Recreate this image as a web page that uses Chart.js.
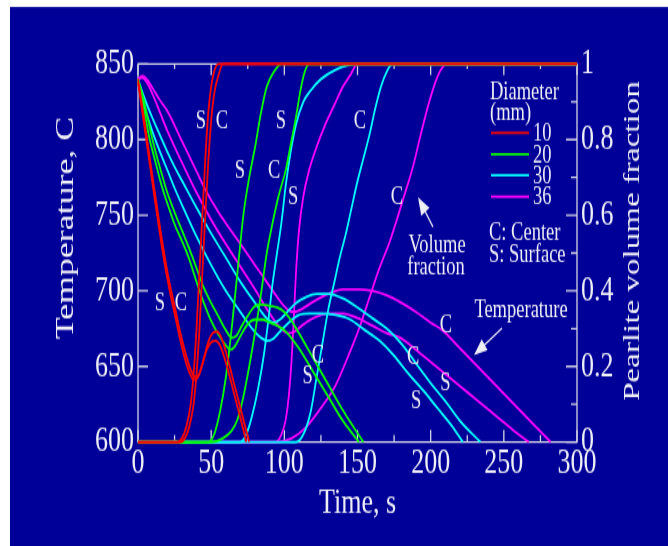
<!DOCTYPE html>
<html>
<head>
<meta charset="utf-8">
<script src="https://cdn.jsdelivr.net/npm/chart.js@4.4.0/dist/chart.umd.min.js"></script>
<style>
  html, body { margin: 0; padding: 0; background: #fff; }
  canvas { display: block; }
</style>
</head>
<body>
<!-- drawn at a flatter height, displayed stretched to 546px tall -->
<canvas id="chart" width="668" height="396" style="width:668px;height:546px"></canvas>
<script>
const STRETCH = 546 / 396;

const diameters = [10, 20, 30, 36];
const lineColors = ["#ff0000", "#00ff00", "#00ffff", "#ff00ff"];

// temperature (C) vs time (s), centre and surface
const temp10C = [[0,840],[4,815],[8,788],[12,762],[17,730],[21,708],[25,690],[29,672],[33,657],[36,648],[39,643],[42,645],[45,655],[48,666],[51,672],[54,673],[57,669],[60,660],[64,645],[68,630],[72,615],[76,600]];
const temp10S = [[0,838],[4,811],[8,784],[12,757],[17,725],[21,703],[25,685],[29,667],[33,652],[36,644],[38,641],[41,643],[44,652],[47,661],[50,666],[53,667],[56,664],[59,656],[63,642],[67,627],[71,612],[74,600]];
const temp20C = [[0,840],[4,826],[8,808],[12,792],[16,778],[20,765],[25,752],[30,740],[35,728],[40,715],[45,702],[50,692],[55,683],[60,674],[64,669],[67,670],[71,677],[76,685],[80,690],[85,691],[90,690],[95,689],[100,686],[105,680],[110,672],[120,655],[130,638],[140,621],[154,600]];
const temp20S = [[0,838],[4,820],[8,800],[12,785],[16,770],[20,758],[25,744],[30,733],[35,721],[40,706],[45,692],[50,680],[55,671],[60,664],[63,661],[66,663],[70,670],[75,678],[80,681],[85,681],[90,679],[95,677],[100,674],[110,662],[120,646],[130,630],[140,614],[151,600]];
const temp30C = [[0,840],[5,826],[10,814],[15,803],[20,792],[25,782],[30,773],[40,755],[50,738],[60,722],[70,706],[80,692],[86,684],[90,680],[93,679],[97,681],[102,686],[108,692],[115,696],[122,698],[130,698],[140,695],[150,689],[160,682],[170,675],[180,665],[190,652],[200,639],[210,627],[220,614],[234,600]];
const temp30S = [[0,839],[5,820],[10,805],[15,792],[20,780],[25,768],[30,757],[40,736],[50,717],[60,700],[70,686],[78,675],[84,669],[88,667],[92,668],[97,673],[103,679],[110,684],[117,685],[125,685],[135,684],[145,681],[155,674],[165,667],[175,657],[185,645],[195,634],[205,622],[215,610],[222,600]];
const temp36C = [[0,840],[3,842],[6,840],[10,834],[15,826],[20,819],[30,799],[40,779],[46,767],[55,752],[62,742],[70,731],[80,717],[90,703],[98,692],[103,687],[107,686],[112,688],[120,693],[130,698],[140,701],[150,701],[160,700],[170,697],[180,692],[190,686],[200,679],[208,674],[220,662],[230,652],[240,642],[250,632],[260,622],[270,612],[282,600]];
const temp36S = [[0,840],[3,841],[6,838],[10,830],[15,818],[20,806],[30,785],[40,765],[50,747],[60,731],[70,716],[80,701],[88,688],[95,678],[100,673],[103,672],[107,673],[112,677],[120,682],[130,685],[140,685],[150,682],[160,677],[170,672],[179,669],[190,661],[200,653],[210,645],[220,637],[230,629],[240,621],[250,613],[260,605],[267,600]];

// pearlite volume fraction vs time (s)
const frac10C = [[0,0],[29,0],[32,0.01],[35,0.04],[38,0.1],[40,0.18],[42,0.3],[44,0.45],[46,0.6],[48,0.74],[50,0.85],[52,0.92],[55,0.97],[58,1],[300,1]];
const frac10S = [[0,0],[27,0],[30,0.01],[33,0.04],[36,0.1],[38,0.18],[40,0.3],[42,0.45],[44,0.6],[46,0.75],[48,0.87],[50,0.94],[52,0.98],[55,1],[300,1]];
const frac20C = [[0,0],[50,0],[58,0.01],[64,0.03],[68,0.06],[72,0.12],[76,0.2],[80,0.29],[84,0.39],[88,0.5],[92,0.58],[96,0.65],[101,0.72],[105,0.8],[108,0.86],[111,0.93],[114,0.98],[117,1],[300,1]];
const frac20S = [[0,0],[48,0],[52,0.02],[56,0.08],[60,0.17],[64,0.3],[68,0.45],[72,0.6],[76,0.7],[80,0.78],[84,0.87],[88,0.94],[93,0.98],[98,1],[300,1]];
const frac30C = [[0,0],[108,0],[113,0.02],[118,0.08],[122,0.17],[126,0.26],[130,0.35],[134,0.42],[138,0.49],[142,0.55],[146,0.62],[150,0.69],[154,0.75],[158,0.81],[162,0.88],[166,0.94],[170,0.98],[174,1],[300,1]];
const frac30S = [[0,0],[70,0],[74,0.02],[78,0.07],[82,0.14],[86,0.23],[89,0.32],[92,0.42],[95,0.5],[98,0.58],[101,0.68],[104,0.76],[108,0.84],[113,0.9],[118,0.93],[125,0.96],[135,0.985],[150,1],[300,1]];
const frac36C = [[0,0],[95,0],[105,0.01],[115,0.04],[125,0.09],[135,0.15],[145,0.24],[152,0.31],[158,0.38],[165,0.46],[172,0.53],[181,0.64],[188,0.73],[193,0.81],[199,0.9],[205,0.97],[211,1],[300,1]];
const frac36S = [[0,0],[94,0],[98,0.02],[101,0.06],[103,0.12],[105,0.22],[106.5,0.33],[108,0.45],[110,0.56],[113,0.65],[117,0.72],[122,0.78],[128,0.84],[134,0.89],[140,0.94],[145,0.97],[150,1],[300,1]];

// C / S tags next to the curves, in data units
const tempTags = [["S",15,692],["C",29.4,692],["C",123,657],["S",116,643],["C",188,656],["S",190,627],["C",210.5,677],["S",210,639]];
const fracTags = [["S",43,0.847],["C",57.4,0.847],["S",69.7,0.717],["C",93,0.717],["S",97.7,0.849],["C",151.7,0.849],["S",106,0.648],["C",177,0.648]];

const tempSeries = [[temp10C, temp10S], [temp20C, temp20S], [temp30C, temp30S], [temp36C, temp36S]];
const fracSeries = [[frac10C, frac10S], [frac20C, frac20S], [frac30C, frac30S], [frac36C, frac36S]];

const textColor = "#eeeef6";
const axisColor = "#d4d4e4";
const serif = "'Liberation Serif', 'Times New Roman', serif";

const datasets = [];
diameters.forEach((d, i) => {
  const mk = (pts, axis, label) => ({
    label,
    data: pts.map(([x, y]) => ({ x, y })),
    yAxisID: axis,
    borderColor: lineColors[i],
    borderWidth: 1.8,
    pointRadius: 0,
    cubicInterpolationMode: "monotone",
    fill: false,
    clip: 4,
  });
  datasets.push(mk(tempSeries[i][0], "y", d + " mm C temp"));
  datasets.push(mk(tempSeries[i][1], "y", d + " mm S temp"));
  datasets.push(mk(fracSeries[i][0], "y2", d + " mm C fraction"));
  datasets.push(mk(fracSeries[i][1], "y2", d + " mm S fraction"));
});

const background = {
  id: "background",
  beforeDraw(chart) {
    const { ctx, width, height } = chart;
    ctx.save();
    ctx.fillStyle = "#ffffff";
    ctx.fillRect(0, 0, width, height);
    ctx.fillStyle = "#000099";
    ctx.fillRect(10, 7 / STRETCH, width - 10, height);
    ctx.restore();
  },
};

// box round the plot with inward ticks
const frame = {
  id: "frame",
  beforeDatasetsDraw(chart) {
    const { ctx, chartArea: a, scales } = chart;
    const { x, y, y2 } = scales;
    ctx.save();
    ctx.strokeStyle = axisColor;
    ctx.lineWidth = 1.3;
    ctx.strokeRect(a.left, a.top, a.right - a.left, a.bottom - a.top);
    ctx.beginPath();
    for (let k = 0; k <= 12; k++) {
      const px = x.getPixelForValue(k * 25);
      const major = k % 2 === 0;
      ctx.moveTo(px, a.bottom);
      ctx.lineTo(px, a.bottom - (major ? 12 : 7) / STRETCH);
      ctx.moveTo(px, a.top);
      ctx.lineTo(px, a.top + (major ? 11 : 5) / STRETCH);
    }
    for (let v = 600; v <= 850; v += 50) {
      const py = y.getPixelForValue(v);
      ctx.moveTo(a.left, py);
      ctx.lineTo(a.left + 10, py);
    }
    for (let k = 0; k <= 10; k++) {
      const py = y2.getPixelForValue(k / 10);
      ctx.moveTo(a.right, py);
      ctx.lineTo(a.right - (k % 2 === 0 ? 11 : 6), py);
    }
    ctx.stroke();
    ctx.restore();
  },
};

function arrow(ctx, x1, y1, x2, y2) {
  // shaft from (x1,y1) to the tip at (x2,y2), y given on the 546px scale
  const ys1 = y1 / STRETCH, ys2 = y2 / STRETCH;
  const ang = Math.atan2(ys2 - ys1, x2 - x1);
  const len = 13, half = 5;
  ctx.beginPath();
  ctx.moveTo(x1, ys1);
  ctx.lineTo(x2 - Math.cos(ang) * len * 0.6, ys2 - Math.sin(ang) * len * 0.6);
  ctx.stroke();
  ctx.beginPath();
  ctx.moveTo(x2, ys2);
  ctx.lineTo(x2 - Math.cos(ang) * len - Math.sin(ang) * half, ys2 - Math.sin(ang) * len + Math.cos(ang) * half);
  ctx.lineTo(x2 - Math.cos(ang) * len + Math.sin(ang) * half, ys2 - Math.sin(ang) * len - Math.cos(ang) * half);
  ctx.closePath();
  ctx.fill();
}

const notes = {
  id: "notes",
  afterDraw(chart) {
    const { ctx, scales } = chart;
    const { x, y, y2 } = scales;
    const S = STRETCH;
    ctx.save();
    ctx.fillStyle = textColor;
    ctx.strokeStyle = textColor;
    ctx.textBaseline = "middle";

    ctx.font = "18.5px " + serif;
    ctx.textAlign = "center";
    tempTags.forEach(([t, tx, ty]) => ctx.fillText(t, x.getPixelForValue(tx), y.getPixelForValue(ty)));
    fracTags.forEach(([t, tx, ty]) => ctx.fillText(t, x.getPixelForValue(tx), y2.getPixelForValue(ty)));

    // legend
    ctx.textAlign = "left";
    ctx.fillText("Diameter", 490, 93 / S);
    ctx.fillText("(mm)", 490, 113 / S);
    diameters.forEach((d, i) => {
      const ly = (133 + i * 21.2) / S;
      ctx.fillText(String(d), 533, ly + 1);
      ctx.save();
      ctx.strokeStyle = lineColors[i];
      ctx.lineWidth = 1.8;
      ctx.beginPath();
      ctx.moveTo(491, ly);
      ctx.lineTo(529, ly);
      ctx.stroke();
      ctx.restore();
    });
    ctx.fillText("C: Center", 489, 233 / S);
    ctx.fillText("S: Surface", 489, 255 / S);

    ctx.textAlign = "center";
    ctx.fillText("Volume", 437, 245 / S);
    ctx.fillText("fraction", 436, 268 / S);
    ctx.fillText("Temperature", 521, 310 / S);

    ctx.lineWidth = 1.2;
    arrow(ctx, 433, 227, 418, 197);
    arrow(ctx, 502, 328, 474, 355);

    // axis titles on the two vertical axes
    ctx.save();
    ctx.translate(66, 228 / S);
    ctx.rotate(-Math.PI / 2);
    ctx.font = "26px " + serif;
    ctx.fillText("Temperature, C", 0, 0);
    ctx.restore();

    ctx.save();
    ctx.translate(633, 241 / S);
    ctx.rotate(-Math.PI / 2);
    ctx.font = "24px " + serif;
    ctx.fillText("Pearlite volume fraction", 0, 0);
    ctx.restore();

    ctx.restore();
  },
};

new Chart(document.getElementById("chart").getContext("2d"), {
  type: "line",
  data: { datasets },
  plugins: [background, frame, notes],
  options: {
    responsive: false,
    animation: false,
    devicePixelRatio: 1,
    layout: { padding: { top: 64 / STRETCH, left: 0, right: 0, bottom: 0 } },
    plugins: { legend: { display: false }, tooltip: { enabled: false } },
    scales: {
      x: {
        type: "linear",
        position: "bottom",
        min: 0,
        max: 300,
        grid: { display: false, drawTicks: false },
        border: { display: false },
        ticks: { stepSize: 50, color: textColor, font: { family: serif, size: 26 }, padding: 0, maxRotation: 0 },
        title: { display: true, text: "Time, s", color: textColor, font: { family: serif, size: 26 }, padding: { top: 0, bottom: 15 } },
        afterFit: (s) => { s.height = 396 - 442 / STRETCH; },
      },
      y: {
        type: "linear",
        position: "left",
        min: 600,
        max: 850,
        grid: { display: false, drawTicks: false },
        border: { display: false },
        ticks: { stepSize: 50, color: textColor, font: { family: serif, size: 26 }, padding: 4 },
        afterFit: (s) => { s.width = 138; },
      },
      y2: {
        type: "linear",
        position: "right",
        min: 0,
        max: 1,
        grid: { display: false, drawTicks: false },
        border: { display: false },
        ticks: {
          stepSize: 0.2,
          color: textColor,
          font: { family: serif, size: 26 },
          padding: 4,
          callback: (v) => (v === 0 || v === 1 ? String(v) : v.toFixed(1)),
        },
        afterFit: (s) => { s.width = 668 - 577; },
      },
    },
  },
});
</script>
</body>
</html>
